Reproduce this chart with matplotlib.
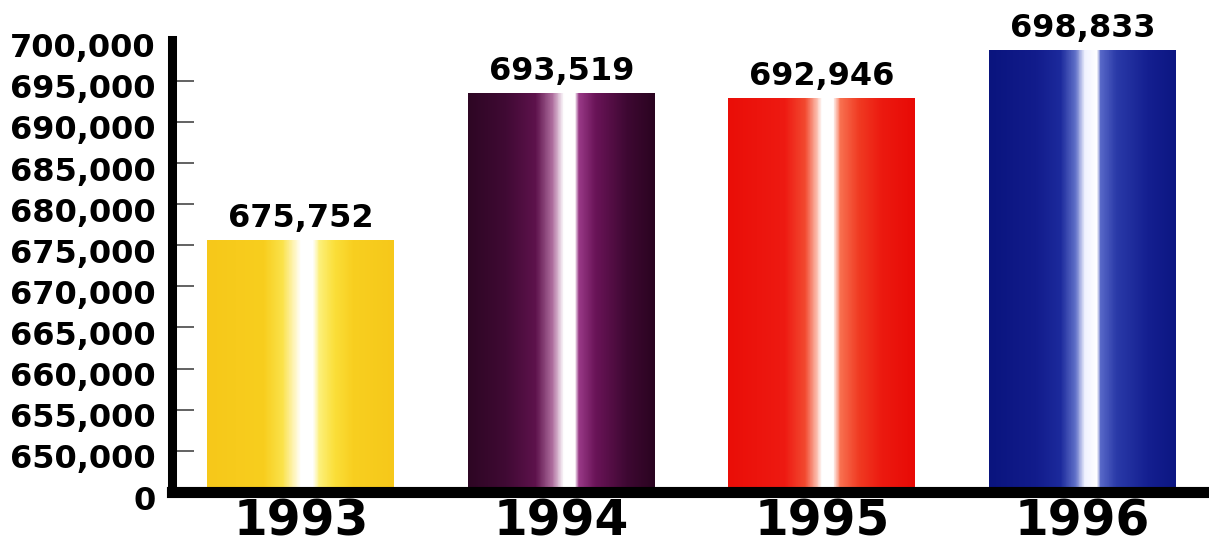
import numpy as np
import matplotlib
matplotlib.use("Agg")
import matplotlib.pyplot as plt
from matplotlib.colors import LinearSegmentedColormap
from matplotlib.transforms import ScaledTranslation

# ---- data ----
years = ["1993", "1994", "1995", "1996"]
values = [675752, 693519, 692946, 698833]
value_labels = ["675,752", "693,519", "692,946", "698,833"]
tick_values = [0, 650000, 655000, 660000, 665000, 670000, 675000,
               680000, 685000, 690000, 695000, 700000]
tick_labels = ["0", "650,000", "655,000", "660,000", "665,000", "670,000",
               "675,000", "680,000", "685,000", "690,000", "695,000", "700,000"]

# ---- styles: gradient stops per bar ----
grad_stops = [
    [(0.0, "#f6c81a"), (0.30, "#f8ce1e"), (0.40, "#fbe24a"), (0.47, "#fff7c8"),
     (0.50, "#ffffff"), (0.565, "#ffffff"), (0.60, "#fdf07a"), (0.68, "#fbdf3a"),
     (0.78, "#f8cf20"), (1.0, "#f6c81a")],
    [(0.0, "#2e0624"), (0.20, "#400a34"), (0.36, "#5e124c"), (0.45, "#b070a0"),
     (0.51, "#ffffff"), (0.57, "#ffffff"), (0.59, "#9a3a88"), (0.68, "#6a1458"),
     (0.85, "#3e0832"), (1.0, "#2a0420")],
    [(0.0, "#ea0e08"), (0.30, "#ee1a12"), (0.41, "#f24a30"), (0.47, "#fbb8a8"),
     (0.50, "#ffffff"), (0.56, "#ffffff"), (0.60, "#f87050"), (0.70, "#f03a22"),
     (0.82, "#ec1a10"), (1.0, "#e80a06")],
    [(0.0, "#0a147e"), (0.25, "#121c8c"), (0.38, "#1c2a9c"), (0.46, "#6070c8"),
     (0.51, "#f0f2ff"), (0.575, "#ffffff"), (0.595, "#5868c8"), (0.68, "#2a3aa8"),
     (0.85, "#141f90"), (1.0, "#0c1682")],
]

# broken axis: 0 sits one step below 650,000
def fwd(v):
    v = np.asarray(v, dtype=float)
    return np.where(v >= 650000, v, 645000 + v * (5000.0 / 650000.0))

def inv(u):
    u = np.asarray(u, dtype=float)
    return np.where(u >= 650000, u, (u - 645000) * (650000.0 / 5000.0))

W, H = 1209, 546
fig = plt.figure(figsize=(W / 100, H / 100), dpi=100)
ax = fig.add_axes([172 / W, 1 - 492 / H, 1 - 172 / W, (492 - 39.6) / H])
ax.set_yscale("function", functions=(fwd, inv))
ax.set_xlim(-0.495, 3.486)
ax.set_ylim(0, 700000)

FONT = "DejaVu Sans"
x = np.arange(len(years))
bar_w = 0.718
bars = ax.bar(x, values, width=bar_w, color="none", edgecolor="none", zorder=2)
t = np.linspace(0, 1, 400)
for i, (b, xi, v) in enumerate(zip(bars, x, values)):
    cmap = LinearSegmentedColormap.from_list(f"g{i}", grad_stops[i])
    img = ax.imshow(cmap(t)[None, :, :], aspect="auto",
                    extent=(xi - bar_w / 2, xi + bar_w / 2, 0, 1),
                    transform=ax.get_xaxis_transform(), zorder=2,
                    interpolation="bilinear")
    img.set_clip_path(b)
    ax.annotate(value_labels[i], (xi, v), xytext=(0, 9), textcoords="offset points",
                ha="center", va="baseline", fontsize=23, fontweight="bold",
                family=FONT, color="black", zorder=5)

ax.set_xlim(-0.495, 3.486)
ax.set_ylim(0, 700000)
ax.set_yticks(tick_values)
ax.set_yticklabels(tick_labels, fontsize=23, fontweight="bold", family=FONT)
ax.set_xticks(x)
ax.set_xticklabels(years, fontsize=35, fontweight="bold", family=FONT)

ax.tick_params(axis="y", direction="in", length=16, width=1.3, color="#555555", pad=12)
ax.tick_params(axis="x", length=0, pad=4)
for k in (0, len(tick_values) - 1):
    ax.yaxis.get_major_ticks()[k].tick1line.set_visible(False)
off = ScaledTranslation(0, -4 / 72, fig.dpi_scale_trans)
for lab in ax.get_yticklabels():
    lab.set_transform(lab.get_transform() + off)

for s in ("top", "right"):
    ax.spines[s].set_visible(False)
ax.spines["left"].set_linewidth(6.5)
ax.spines["bottom"].set_linewidth(8)
ax.spines["left"].set_zorder(6)
ax.spines["bottom"].set_zorder(6)
ax.set_facecolor("white")
fig.patch.set_facecolor("white")

fig.savefig("out.png", dpi=100)
